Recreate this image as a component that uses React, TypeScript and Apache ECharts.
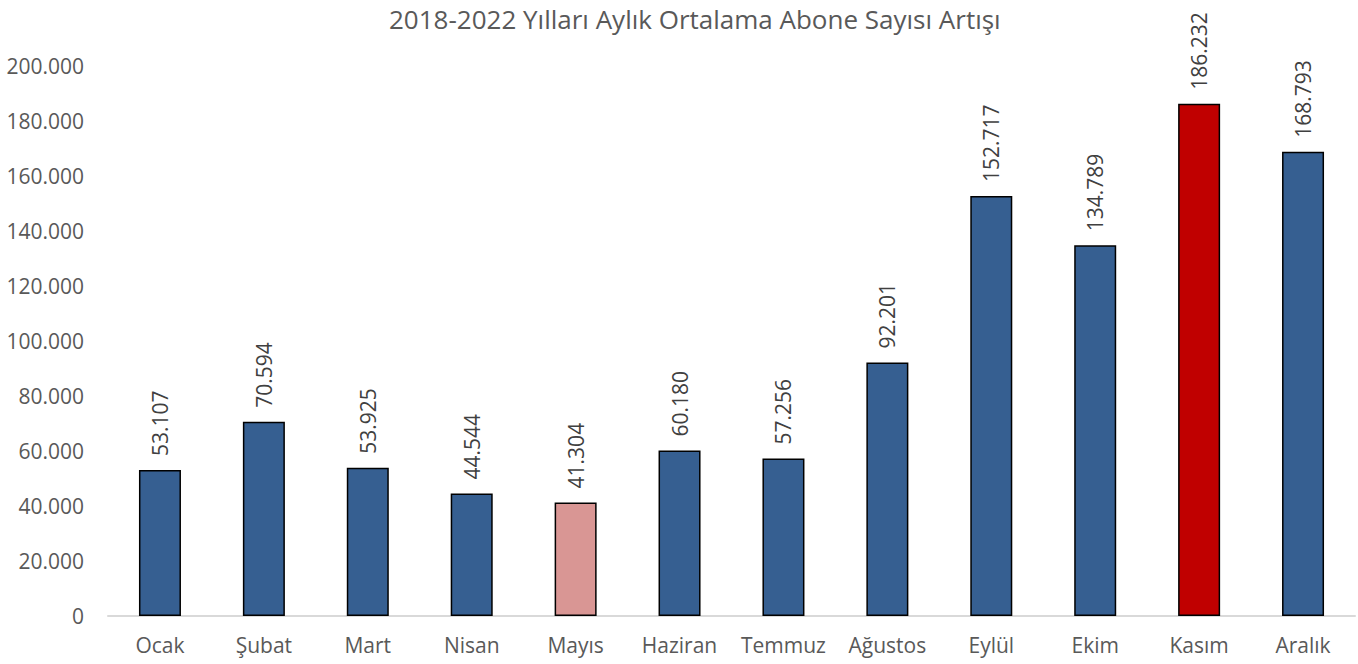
import React, { useEffect, useRef } from "react";
import * as echarts from "echarts";

const titleText = "2018-2022 Yılları Aylık Ortalama Abone Sayısı Artışı";
const months = ["Ocak", "Şubat", "Mart", "Nisan", "Mayıs", "Haziran", "Temmuz", "Ağustos", "Eylül", "Ekim", "Kasım", "Aralık"];
const values = [53107, 70594, 53925, 44544, 41304, 60180, 57256, 92201, 152717, 134789, 186232, 168793];
const barColors = ["#365F91", "#365F91", "#365F91", "#365F91", "#D99694", "#365F91", "#365F91", "#365F91", "#365F91", "#365F91", "#C00000", "#365F91"];

const fmt = (v: number) => String(Math.round(v)).replace(/\B(?=(\d{3})+(?!\d))/g, ".");

export default function App() {
  const ref = useRef<HTMLDivElement>(null);
  useEffect(() => {
    if (!ref.current) return;
    const chart = echarts.init(ref.current, null, { renderer: "svg" });
    const font = "'Open Sans', sans-serif";
    chart.setOption({
      animation: false,
      backgroundColor: "#ffffff",
      title: {
        text: titleText,
        left: 384,
        top: 1,
        textStyle: { fontFamily: font, fontSize: 26, fontWeight: "normal", color: "#595959" },
      },
      grid: { left: 108, right: 3, top: 66, bottom: 48, containLabel: false },
      xAxis: {
        type: "category",
        data: months,
        axisLine: { show: true, lineStyle: { color: "#D9D9D9", width: 2 } },
        axisTick: { show: false },
        axisLabel: { interval: 0, color: "#595959", fontFamily: font, fontSize: 21, margin: 18 },
      },
      yAxis: {
        type: "value",
        min: 0,
        max: 200000,
        interval: 20000,
        axisLine: { show: false },
        axisTick: { show: false },
        splitLine: { show: false },
        axisLabel: { color: "#595959", fontFamily: font, fontSize: 21, margin: 24, formatter: (v: number) => fmt(v) },
      },
      series: [
        {
          type: "bar",
          data: values.map((v, i) => ({ value: v, itemStyle: { color: barColors[i] } })),
          barWidth: 42,
          itemStyle: { borderColor: "#000000", borderWidth: 1.5 },
          label: {
            show: true,
            position: "top",
            rotate: 90,
            align: "left",
            verticalAlign: "middle",
            distance: 14,
            color: "#404040",
            fontFamily: font,
            fontSize: 21,
            formatter: (p: any) => fmt(p.value),
          },
        },
      ],
    });
    return () => chart.dispose();
  }, []);
  return <div ref={ref} style={{ width: 1358, height: 664, position: "absolute", left: 0, top: 0 }} />;
}
